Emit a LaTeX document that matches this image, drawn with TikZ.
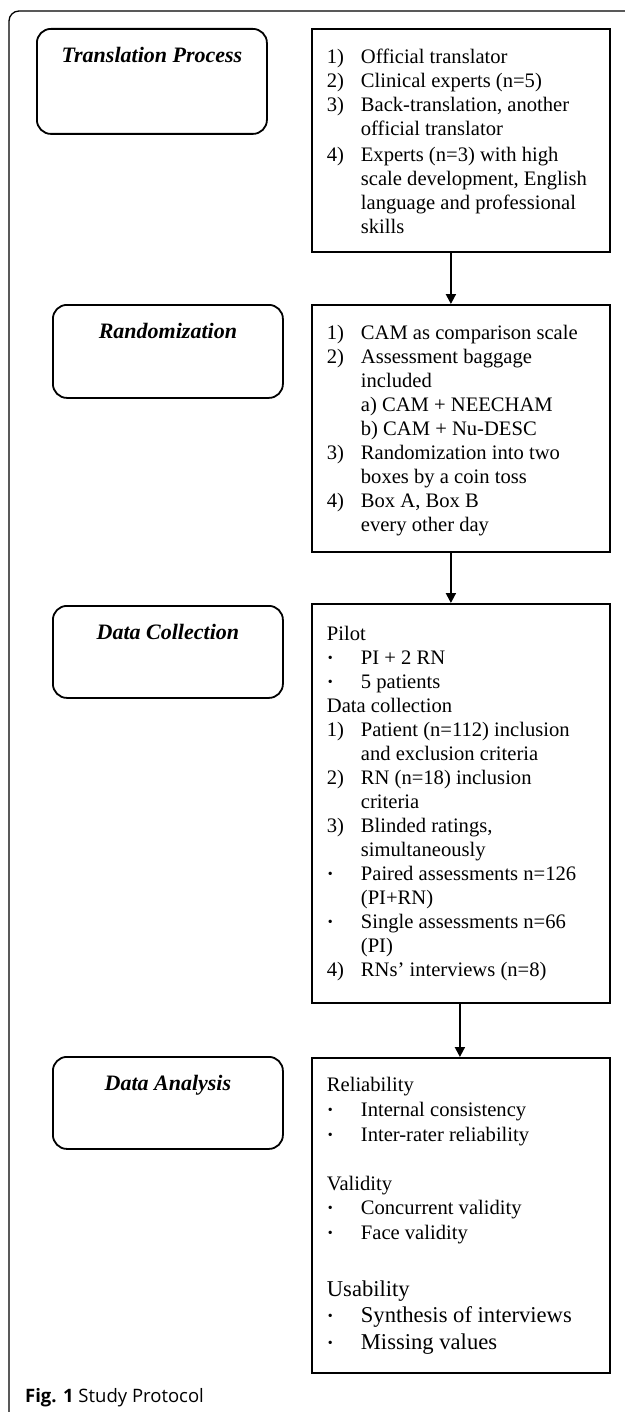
\documentclass[tikz,border=0pt]{standalone}
\usepackage{fontspec}
\setmainfont{Liberation Serif}
\newfontfamily\capfont{Open Sans}
\usetikzlibrary{arrows.meta}
\newcommand\bodyfont{\fontsize{20.6bp}{24bp}\selectfont}
\newcommand\bigbody{\fontsize{22.6bp}{26bp}\selectfont}
\newcommand\nb[1]{\hbox to 34bp{#1\hfil}}
\newcommand\bul{\hbox to 34bp{\kern1bp\raisebox{1.5bp}{\fontsize{14bp}{14bp}\selectfont\textbullet}\hfil}}
\newcommand\ind{\hskip34bp}
\newcommand\rowsblk[1]{\vtop{\bodyfont\baselineskip=24bp\lineskip=0pt\lineskiplimit=-100bp\halign{##\hfil\cr#1\crcr}}}
\newcommand\rcontent[3]{\vbox to #1bp{\bodyfont\vskip#2bp\hbox to 298bp{\hskip15bp\rowsblk{#3}\hfil}\vss}}
\newcommand\lcontent[2]{\vbox to #1bp{\vskip18bp\hbox to 230bp{\hfil\fontsize{22bp}{26bp}\selectfont\bfseries\itshape #2\hfil}\vss}}
\tikzset{
  lbox/.style={draw, line width=1.8bp, rounded corners=14bp, inner sep=0pt, anchor=north west},
  rbox/.style={draw, line width=1.8bp, inner sep=0pt, anchor=north west},
  arr/.style={line width=2bp, -{Triangle[length=10bp,width=10bp]}},
}
\begin{document}
\begin{tikzpicture}[x=1bp,y=-1bp]
\useasboundingbox (0,0) rectangle (625,1412);
% outer frame
\draw[line width=1.3bp, rounded corners=10bp] (9,1412) -- (9,11) -- (625,11);

% left boxes
\node[lbox] (l1) at (36,28) {\lcontent{105}{Translation Process}};
\node[lbox] (l2) at (52,304) {\lcontent{93}{Randomization}};
\node[lbox] (l3) at (52,605) {\lcontent{92}{Data Collection}};
\node[lbox] (l4) at (52,1056) {\lcontent{92}{Data Analysis}};

% right boxes
\node[rbox] (r1) at (311,28) {\rcontent{223}{20}{%
\nb{1)}Official translator\cr
\nb{2)}Clinical experts (n=5)\cr
\nb{3)}Back-translation, another\cr
\ind official translator\cr
\noalign{\vskip2bp}
\nb{4)}Experts (n=3) with high\cr
\ind scale development, English\cr
\ind language and professional\cr
\ind skills\cr}};

\node[rbox] (r2) at (311,304) {\rcontent{247}{20}{%
\nb{1)}CAM as comparison scale\cr
\nb{2)}Assessment baggage\cr
\ind included\cr
\ind a) CAM + NEECHAM\cr
\ind b) CAM + Nu-DESC\cr
\nb{3)}Randomization into two\cr
\ind boxes by a coin toss\cr
\nb{4)}Box A, Box B\cr
\ind every other day\cr}};

\node[rbox] (r3) at (311,603) {\rcontent{399}{22}{%
Pilot\cr
\bul PI + 2 RN\cr
\bul 5 patients\cr
Data collection\cr
\nb{1)}Patient (n=112) inclusion\cr
\ind and exclusion criteria\cr
\nb{2)}RN (n=18) inclusion\cr
\ind criteria\cr
\nb{3)}Blinded ratings,\cr
\ind simultaneously\cr
\bul Paired assessments n=126\cr
\ind (PI+RN)\cr
\bul Single assessments n=66\cr
\ind (PI)\cr
\nb{4)}RNs’ interviews (n=8)\cr}};

\node[rbox] (r4) at (311,1057) {\rcontent{315}{19}{%
Reliability\cr
\noalign{\vskip1bp}
\bul Internal consistency\cr
\noalign{\vskip1bp}
\bul Inter-rater reliability\cr
\noalign{\vskip25bp}
Validity\cr
\bul Concurrent validity\cr
\noalign{\vskip1bp}
\bul Face validity\cr
\noalign{\vskip33bp}
{\bigbody Usability}\cr
\noalign{\vskip2bp}
\bul{\bigbody Synthesis of interviews}\cr
\noalign{\vskip3bp}
\bul{\bigbody Missing values}\cr}};

% arrows
\draw[arr] ([xshift=-10bp]r1.south) -- ([xshift=-10bp]r2.north);
\draw[arr] ([xshift=-10bp]r2.south) -- ([xshift=-10bp]r3.north);
\draw[arr] ([xshift=-1bp]r3.south) -- ([xshift=-1bp]r4.north);

% caption
\node[anchor=base west, inner sep=0pt] (cap) at (25,1402) {\capfont\fontsize{18.5bp}{20bp}\selectfont\textbf{Fig. 1} Study Protocol};
\end{tikzpicture}
\end{document}
